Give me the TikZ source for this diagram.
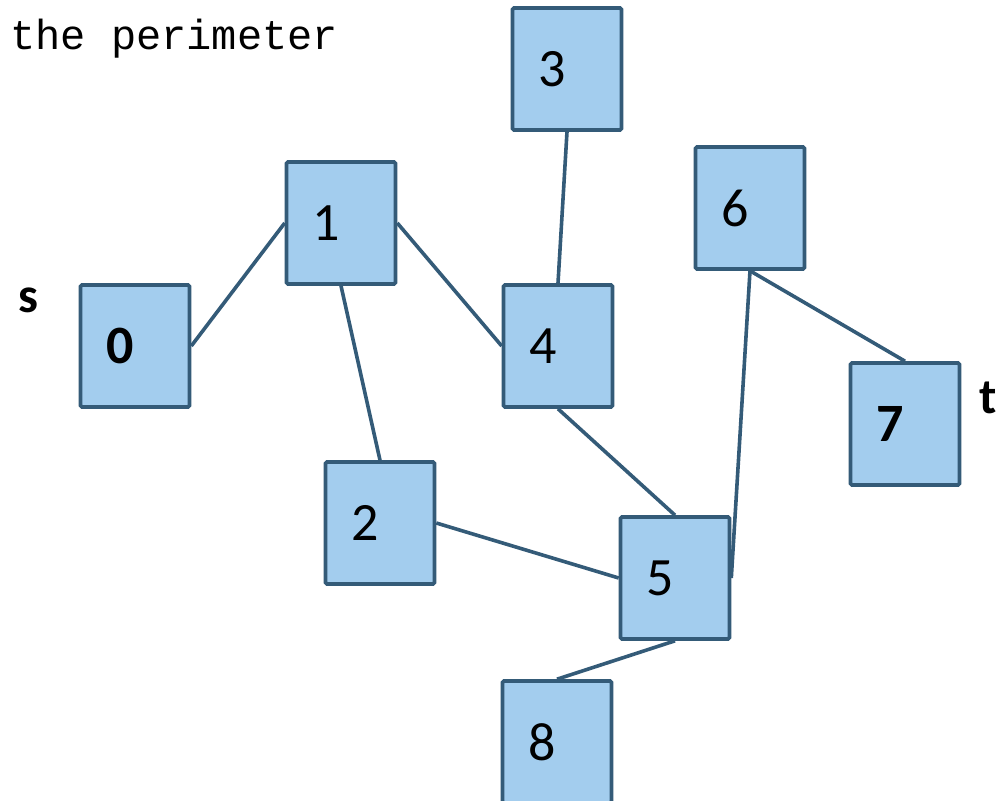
\documentclass[tikz,border=0pt]{standalone}
\usepackage{fontspec}
\setmainfont{Carlito}
\newfontfamily\monofont{Liberation Mono}
\definecolor{boxfill}{HTML}{A3CDEE}
\definecolor{boxline}{HTML}{345B78}
\newcommand{\blabel}[1]{\makebox[109pt][l]{\hspace{26pt}#1}}
\begin{document}
\begin{tikzpicture}[x=1pt,y=-1pt,
  vbox/.style={draw=boxline, fill=boxfill, line width=3.6pt, rounded corners=1.5pt,
    minimum width=109pt, minimum height=122pt, inner sep=0pt, font=\fontsize{54}{60}\selectfont},
  edge/.style={draw=boxline, line width=3.6pt},
  side/.style={font=\fontsize{50}{56}\selectfont\bfseries, inner sep=0pt}]
\useasboundingbox (0,0) rectangle (1006,800);
\node[vbox] (n0) at (135,346) {\blabel{\bfseries 0}};
\node[vbox] (n1) at (341,223) {\blabel{1}};
\node[vbox] (n2) at (380,523) {\blabel{2}};
\node[vbox] (n3) at (567,69) {\blabel{3}};
\node[vbox] (n4) at (558,346) {\blabel{4}};
\node[vbox] (n5) at (675,578) {\blabel{5}};
\node[vbox] (n6) at (750,208) {\blabel{6}};
\node[vbox] (n7) at (905,424) {\blabel{\bfseries 7}};
\node[vbox] (n8) at (557,742) {\blabel{8}};
\draw[edge] (n0.east) -- (n1.west);
\draw[edge] (n1.east) -- (n4.west);
\draw[edge] (n1.south) -- (n2.north);
\draw[edge] (n3.south) -- (n4.north);
\draw[edge] (n4.south) -- (n5.north);
\draw[edge] (n2.east) -- (n5.west);
\draw[edge] (n6.south) -- (n5.east);
\draw[edge] (n6.south) -- (n7.north);
\draw[edge] (n5.south) -- (n8.north);
\node[side] (s) at (28,300) {s};
\node[side] (t) at (988,398) {t};
\node[anchor=west, inner sep=0pt, font=\monofont\fontsize{42}{48}\selectfont] (title) at (10,39) {the perimeter};
\end{tikzpicture}
\end{document}
